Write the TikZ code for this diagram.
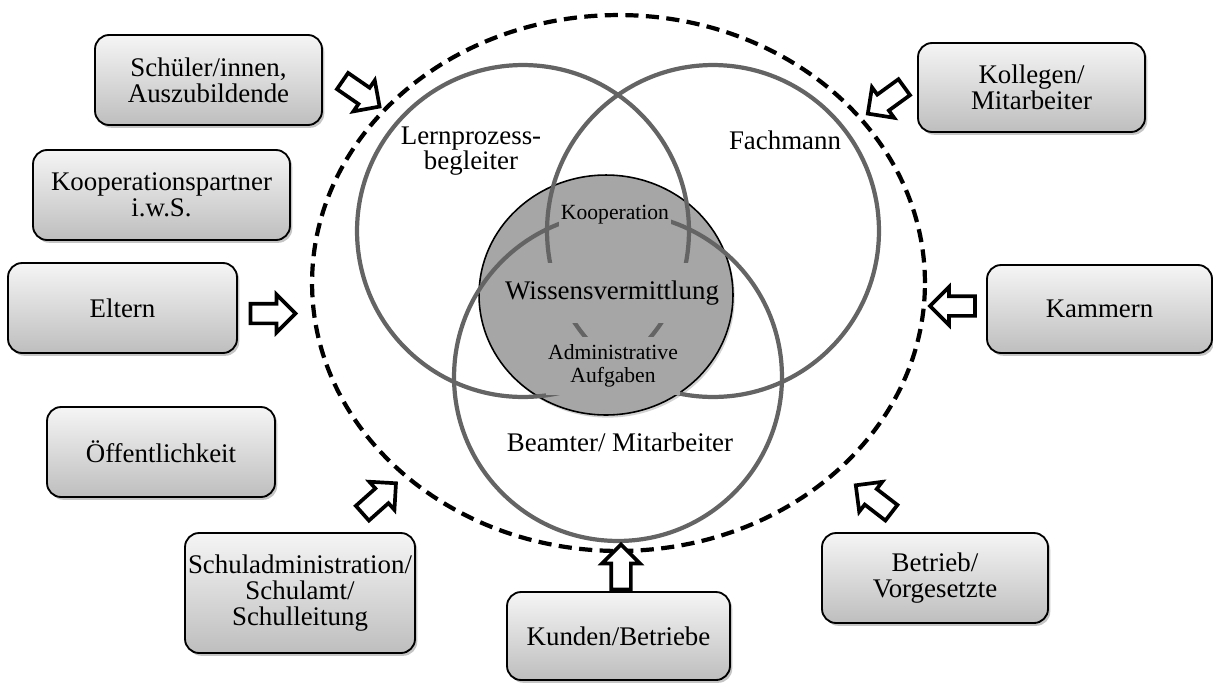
\documentclass[tikz,border=0pt]{standalone}
\usepackage{fontspec}
\setmainfont{Liberation Serif}
\usetikzlibrary{shadows,shapes.arrows,shapes.geometric}
\definecolor{boxtop}{RGB}{245,245,245}
\definecolor{boxbot}{RGB}{190,190,190}
\definecolor{vennc}{RGB}{100,100,100}
\definecolor{kern}{RGB}{166,166,166}
\newcommand\fbig{\fontsize{15.3}{14.6}\selectfont}
\newcommand\fsmall{\fontsize{12.3}{13}\selectfont}
\begin{document}
\begin{tikzpicture}[x=0.02cm,y=-0.02cm,
  box/.style={draw=black, line width=1.05pt, rounded corners=8pt,
    top color=boxtop, bottom color=boxbot,
    drop shadow={shadow xshift=1.3pt, shadow yshift=-1.6pt, fill=black!45},
    align=center, inner sep=0pt, font=\fbig},
  barrow/.style={single arrow, draw=black, line width=2.1pt, fill=white,
    minimum height=0.9cm, inner sep=0.16cm, single arrow head extend=0.18cm,
    single arrow tip angle=90},
  venn/.style={circle, draw=vennc, line width=2.4pt, minimum size=6.64cm, inner sep=0pt},
  lbl/.style={align=center, font=\fbig, inner sep=0pt},
  cover/.style={fill=kern, align=center, inner xsep=1pt}
]
\useasboundingbox (0,0) rectangle (1213,684);

% outer dashed ellipse
\node[draw=black, line width=2.4pt, dash pattern=on 7.5pt off 4.2pt, ellipse,
  minimum width=12.26cm, minimum height=10.72cm, inner sep=0pt] (outer) at (618.5,283) {};

% central grey circle
\node[ellipse, draw=black, line width=0.9pt, fill=kern, minimum width=5.08cm, minimum height=4.8cm,
  inner sep=0pt, drop shadow={shadow xshift=1pt, shadow yshift=-1.5pt, fill=black!35}] (core) at (606,295) {};

% venn circles
\node[venn] (lern) at (523,231) {};
\node[venn] (fach) at (713,231) {};
\node[venn, minimum size=6.56cm] (beam) at (618,377) {};

% texts inside the core (covering the arcs)
\node[cover, font=\fsmall, inner ysep=3pt] (koop) at (615,215) {Kooperation};
\node[cover, font=\fbig, minimum width=4.3cm, minimum height=1.2cm] (wiss) at (612,293) {Wissensvermittlung};
\node[cover, font=\fsmall, minimum height=1.16cm, inner ysep=0pt] (admin) at (613,366) {Administrative\\Aufgaben};

% circle labels
\node[lbl] (lernl) at (471,151) {Lernprozess-\\begleiter};
\node[lbl] (fachl) at (785,140) {Fachmann};
\node[lbl] (beaml) at (620,442) {Beamter/ Mitarbeiter};

% boxes
\node[box, minimum width=4.54cm, minimum height=1.8cm] (schueler) at (208.5,80) {Schüler/innen,\\Auszubildende};
\node[box, minimum width=5.14cm, minimum height=1.8cm] (koopp) at (161.5,195) {Kooperationspartner\\i.w.S.};
\node[box, minimum width=4.58cm, minimum height=1.8cm] (eltern) at (122.5,308) {Eltern};
\node[box, minimum width=4.56cm, minimum height=1.8cm] (oeff) at (161,452) {Öffentlichkeit};
\node[box, minimum width=4.6cm, minimum height=2.4cm] (schul) at (300,593) {Schuladministration/\\Schulamt/\\Schulleitung};
\node[box, minimum width=4.46cm, minimum height=1.76cm] (kunden) at (618.5,636) {Kunden/Betriebe};
\node[box, minimum width=4.52cm, minimum height=1.8cm] (betrieb) at (935,578) {Betrieb/\\Vorgesetzte};
\node[box, minimum width=4.5cm, minimum height=1.76cm] (kammern) at (1099.5,309) {Kammern};
\node[box, minimum width=4.54cm, minimum height=1.78cm] (kollegen) at (1031.5,87.5) {Kollegen/\\Mitarbeiter};

% block arrows
\node[barrow, rotate=-34.6] (a1) at (357,91) {};
\node[barrow, rotate=-144] (a2) at (890,97.5) {};
\node[barrow, rotate=0] (a3) at (268,313.5) {};
\node[barrow, rotate=180] (a4) at (957.5,306) {};
\node[barrow, rotate=41.7] (a5) at (375.5,501.5) {};
\node[barrow, rotate=90] (a6) at (621,572) {};
\node[barrow, rotate=142.4] (a7) at (877.5,502) {};
\end{tikzpicture}
\end{document}
